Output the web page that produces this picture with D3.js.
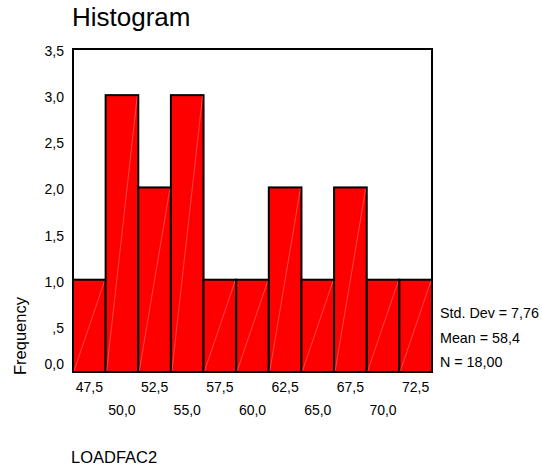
<!DOCTYPE html>
<html>
<head>
<meta charset="utf-8">
<script src="https://cdn.jsdelivr.net/npm/d3@7"></script>
<style>
  html, body { margin: 0; padding: 0; background: #fff; }
  svg { display: block; font-family: "Liberation Sans", Arial, sans-serif; }
</style>
</head>
<body>
<svg id="chart" width="542" height="473"></svg>
<script>
// Bin midpoints (LOADFAC2) and their frequencies
const binMids = [47.5, 50.0, 52.5, 55.0, 57.5, 60.0, 62.5, 65.0, 67.5, 70.0, 72.5];
const frequencies = [1, 3, 2, 3, 1, 1, 2, 1, 2, 1, 1];
const binWidth = 2.5;
const yTicks = [0, 0.5, 1.0, 1.5, 2.0, 2.5, 3.0, 3.5];
const statLines = ["Std. Dev = 7,76", "Mean = 58,4", "N = 18,00"];

const fmtComma = v => d3.format(".1f")(v).replace(".", ",");
const fmtY = v => (v > 0 && v < 1) ? fmtComma(v).replace(/^0/, "") : fmtComma(v);

const svg = d3.select("#chart");
const m = { left: 73, right: 432, top: 49, bottom: 372 };

const x = d3.scaleLinear()
  .domain([binMids[0] - binWidth / 2, binMids[binMids.length - 1] + binWidth / 2])
  .range([m.left, m.right]);
const y = d3.scaleLinear().domain([0, 3.5]).range([m.bottom, m.top]);

// Title
svg.append("text").attr("x", 72).attr("y", 26)
  .attr("font-size", 26).text("Histogram");

// Bars
const bars = svg.append("g");
binMids.forEach((mid, i) => {
  const x0 = x(mid - binWidth / 2), x1 = x(mid + binWidth / 2);
  const y0 = y(0), y1 = y(frequencies[i]);
  bars.append("rect")
    .attr("x", x0).attr("y", y1)
    .attr("width", x1 - x0).attr("height", y0 - y1)
    .attr("fill", "#ff0000").attr("stroke", "#000").attr("stroke-width", 2);
  bars.append("line")
    .attr("x1", x0 + 1).attr("y1", y0 - 1).attr("x2", x1 - 1).attr("y2", y1 + 1)
    .attr("stroke", "#ffffff").attr("stroke-opacity", 0.35).attr("stroke-width", 0.8);
});

// Frame
svg.append("rect")
  .attr("x", m.left).attr("y", m.top)
  .attr("width", m.right - m.left).attr("height", m.bottom - m.top)
  .attr("fill", "none").attr("stroke", "#000").attr("stroke-width", 2);

// Y axis labels (the zero label is kept clear of the axis line)
svg.append("g").selectAll("text").data(yTicks).join("text")
  .attr("x", 64).attr("y", d => Math.min(y(d) + 7, m.bottom - 3))
  .attr("text-anchor", "end").attr("font-size", 14)
  .text(fmtY);

// X axis labels, staggered on two rows
svg.append("g").selectAll("text").data(binMids).join("text")
  .attr("x", d => x(d))
  .attr("y", (d, i) => i % 2 === 0 ? 392 : 415)
  .attr("text-anchor", "middle").attr("font-size", 14)
  .text(fmtComma);

// Axis titles
svg.append("text")
  .attr("transform", "translate(26,336) rotate(-90)")
  .attr("text-anchor", "middle").attr("font-size", 16.5)
  .text("Frequency");
svg.append("text").attr("x", 71).attr("y", 463)
  .attr("font-size", 16.5).text("LOADFAC2");

// Summary statistics
svg.append("g").selectAll("text").data(statLines).join("text")
  .attr("x", 440).attr("y", (d, i) => 318 + i * 24.5)
  .attr("font-size", 14.3).text(d => d);
</script>
</body>
</html>
